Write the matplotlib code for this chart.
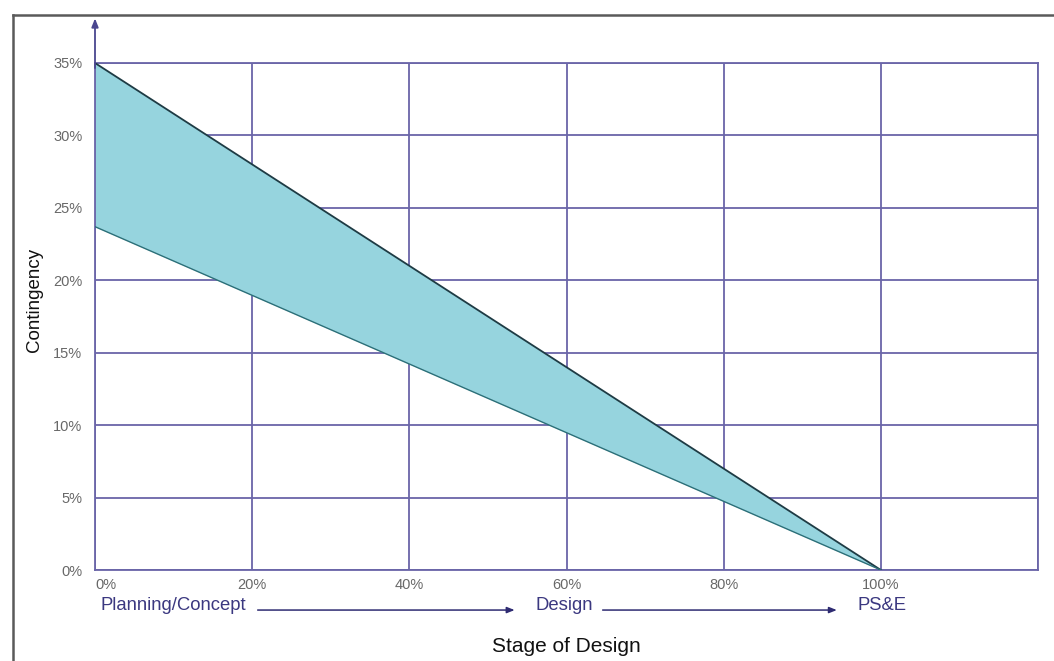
import matplotlib
matplotlib.use("Agg")
import matplotlib.pyplot as plt

plt.rcParams["font.family"] = ["Liberation Sans", "DejaVu Sans"]

# Design completion (%) and the contingency band (% of cost)
design_pct = [0, 100]
contingency_high = [35.0, 0.0]
contingency_low = [23.7, 0.0]

x_ticks = [0, 20, 40, 60, 80, 100, 120]
x_tick_labels = ["0%", "20%", "40%", "60%", "80%", "100%", ""]
y_ticks = [0, 5, 10, 15, 20, 25, 30, 35]
y_tick_labels = ["0%", "5%", "10%", "15%", "20%", "25%", "30%", "35%"]

stage_names = ["Planning/Concept", "Design", "PS&E"]
stage_x = [0.7, 56.1, 97.0]
stage_arrows = [(20.7, 53.4), (64.6, 94.4)]

GRID = "#6a65a8"
NAVY = "#2e2b72"
FILL = "#96d4de"

fig = plt.figure(figsize=(10.54, 6.61), dpi=100)
ax = fig.add_axes([95 / 1054, 1 - 570 / 661, (1038 - 95) / 1054, 507 / 661])

ax.set_xlim(0, 120)
ax.set_ylim(0, 35)

ax.fill_between(design_pct, contingency_low, contingency_high,
                color=FILL, linewidth=0, zorder=2)
ax.plot(design_pct, contingency_high, color="#1e3b44", lw=1.3, zorder=3)
ax.plot(design_pct, contingency_low, color="#2c6f78", lw=1.0, zorder=3)

ax.set_xticks(x_ticks)
ax.set_xticklabels(x_tick_labels)
ax.set_yticks(y_ticks)
ax.set_yticklabels(y_tick_labels)
ax.tick_params(length=0, labelsize=10.5, labelcolor="#686868")
ax.tick_params(axis="x", pad=6)
ax.tick_params(axis="y", pad=9)
ax.get_xticklabels()[0].set_ha("left")

ax.grid(True, color=GRID, lw=1.3, zorder=1)
ax.set_axisbelow(True)
for side in ["left", "right", "top", "bottom"]:
    ax.spines[side].set_color(GRID)
    ax.spines[side].set_linewidth(1.3)

# vertical axis arrow above the plot
ax.annotate("", xy=(0, 1.088), xycoords="axes fraction",
            xytext=(0, 0.99), textcoords="axes fraction",
            arrowprops=dict(arrowstyle="-|>,head_length=0.5,head_width=0.2",
                            color="#4a468f", lw=1.3, shrinkA=0, shrinkB=0),
            annotation_clip=False)

# stage sequence beneath the percentage labels
for name, x in zip(stage_names, stage_x):
    ax.text(x, -0.071, name, transform=ax.get_xaxis_transform(),
            ha="left", va="center", fontsize=13.3, color="#3b3880", clip_on=False)
for x0, x1 in stage_arrows:
    ax.annotate("", xy=(x1, -0.079), xycoords=("data", "axes fraction"),
                xytext=(x0, -0.079), textcoords=("data", "axes fraction"),
                arrowprops=dict(arrowstyle="-|>,head_length=0.45,head_width=0.18",
                                color=NAVY, lw=1.1, shrinkA=0, shrinkB=0),
                annotation_clip=False)

fig.text(566 / 1054, 1 - 647 / 661, "Stage of Design", ha="center", va="center",
         fontsize=15, color="#111111")
fig.text(34 / 1054, 1 - 300 / 661, "Contingency", ha="center", va="center",
         rotation=90, fontsize=13.5, color="#111111")

# outer frame lines
frame = dict(color="#5a5a5a", lw=1.8, transform=fig.transFigure, clip_on=False)
fig.add_artist(plt.Line2D([13 / 1054, 13 / 1054], [0, 1 - 15 / 661], **frame))
fig.add_artist(plt.Line2D([13 / 1054, 1], [1 - 15 / 661, 1 - 15 / 661], **frame))

fig.savefig("out.png", dpi=100)
